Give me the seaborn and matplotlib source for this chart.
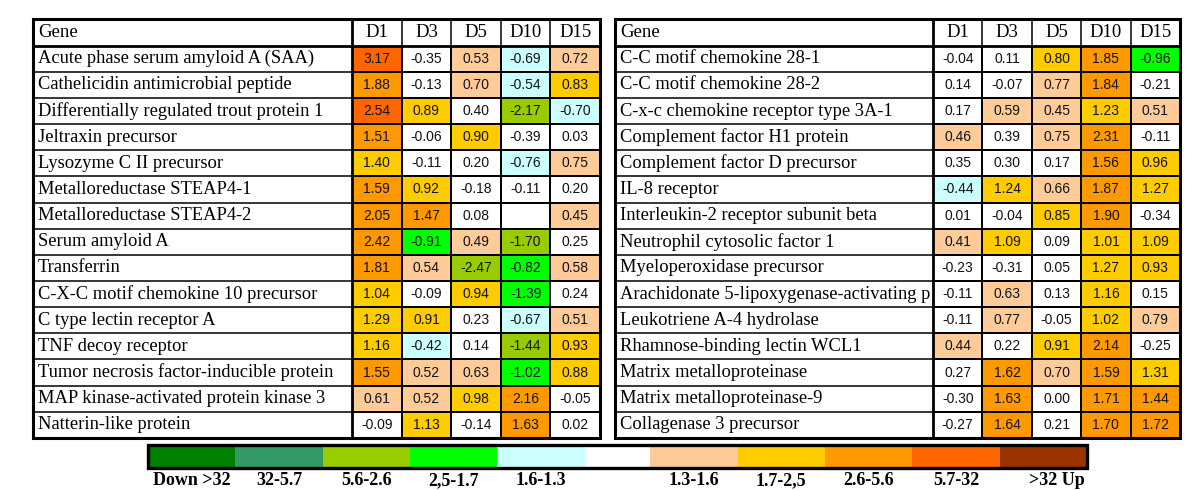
import numpy as np
import matplotlib
matplotlib.use("Agg")
import matplotlib.pyplot as plt
from matplotlib.colors import ListedColormap, BoundaryNorm
from matplotlib.patches import Rectangle
import seaborn as sns

# ---- data (log2 fold change) ----
DAYS = ["D1", "D3", "D5", "D10", "D15"]

left_genes = [
    "Acute phase serum amyloid A (SAA)",
    "Cathelicidin antimicrobial peptide",
    "Differentially regulated trout protein 1",
    "Jeltraxin precursor",
    "Lysozyme C II precursor",
    "Metalloreductase STEAP4-1",
    "Metalloreductase STEAP4-2",
    "Serum amyloid A",
    "Transferrin",
    "C-X-C motif chemokine 10 precursor",
    "C type lectin receptor A",
    "TNF decoy receptor",
    "Tumor necrosis factor-inducible protein",
    "MAP kinase-activated protein kinase 3",
    "Natterin-like protein",
]
left_vals = [
    [3.17, -0.35, 0.53, -0.69, 0.72],
    [1.88, -0.13, 0.70, -0.54, 0.83],
    [2.54, 0.89, 0.40, -2.17, -0.70],
    [1.51, -0.06, 0.90, -0.39, 0.03],
    [1.40, -0.11, 0.20, -0.76, 0.75],
    [1.59, 0.92, -0.18, -0.11, 0.20],
    [2.05, 1.47, 0.08, np.nan, 0.45],
    [2.42, -0.91, 0.49, -1.70, 0.25],
    [1.81, 0.54, -2.47, -0.82, 0.58],
    [1.04, -0.09, 0.94, -1.39, 0.24],
    [1.29, 0.91, 0.23, -0.67, 0.51],
    [1.16, -0.42, 0.14, -1.44, 0.93],
    [1.55, 0.52, 0.63, -1.02, 0.88],
    [0.61, 0.52, 0.98, 2.16, -0.05],
    [-0.09, 1.13, -0.14, 1.63, 0.02],
]

right_genes = [
    "C-C motif chemokine 28-1",
    "C-C motif chemokine 28-2",
    "C-x-c chemokine receptor type 3A-1",
    "Complement factor H1 protein",
    "Complement factor D precursor",
    "IL-8 receptor",
    "Interleukin-2 receptor subunit beta",
    "Neutrophil cytosolic factor 1",
    "Myeloperoxidase precursor",
    "Arachidonate 5-lipoxygenase-activating p",
    "Leukotriene A-4 hydrolase",
    "Rhamnose-binding lectin WCL1",
    "Matrix metalloproteinase",
    "Matrix metalloproteinase-9",
    "Collagenase 3 precursor",
]
right_vals = [
    [-0.04, 0.11, 0.80, 1.85, -0.96],
    [0.14, -0.07, 0.77, 1.84, -0.21],
    [0.17, 0.59, 0.45, 1.23, 0.51],
    [0.46, 0.39, 0.75, 2.31, -0.11],
    [0.35, 0.30, 0.17, 1.56, 0.96],
    [-0.44, 1.24, 0.66, 1.87, 1.27],
    [0.01, -0.04, 0.85, 1.90, -0.34],
    [0.41, 1.09, 0.09, 1.01, 1.09],
    [-0.23, -0.31, 0.05, 1.27, 0.93],
    [-0.11, 0.63, 0.13, 1.16, 0.15],
    [-0.11, 0.77, -0.05, 1.02, 0.79],
    [0.44, 0.22, 0.91, 2.14, -0.25],
    [0.27, 1.62, 0.70, 1.59, 1.31],
    [-0.30, 1.63, 0.00, 1.71, 1.44],
    [-0.27, 1.64, 0.21, 1.70, 1.72],
]

# colour classes (fold change bins on log2 scale)
bin_edges = [-10, -5, -2.5, -1.42, -0.795, -0.405, 0.405, 0.795, 1.42, 2.5, 5, 10]
bin_colors = ["#008000", "#339966", "#99CC00", "#00FF00", "#CCFFFF", "#FFFFFF",
              "#FFCC99", "#FFCC00", "#FF9900", "#FF6600", "#993300"]
legend_labels = ["Down >32", "32-5.7", "5.6-2.6", "2,5-1.7", "1.6-1.3", "",
                 "1.3-1.6", "1.7-2,5", "2.6-5.6", "5.7-32", ">32 Up"]
legend_span = [4, 4, 4, 4, 4, 3, 4, 4, 4, 4, 4]   # white class is narrower

cmap = ListedColormap(bin_colors)
norm = BoundaryNorm(bin_edges, cmap.N)

# ---- layout in pixels ----
W, H = 1200, 490
TOP, ROW_H = 19.5, 26.15
LW = 1.1
SERIF = "Liberation Serif"
SANS = "Liberation Sans"

fig = plt.figure(figsize=(W / 100, H / 100), dpi=100)


def px_axes(x0, y0, x1, y1):
    return fig.add_axes([x0 / W, 1 - y1 / H, (x1 - x0) / W, (y1 - y0) / H])


tables = [
    (left_genes, left_vals, 33, 352, 600),
    (right_genes, right_vals, 615, 933, 1180),
]
n_rows = len(left_genes)
bottom = TOP + (n_rows + 1) * ROW_H

for genes, vals, x0, xg, x1 in tables:
    ax = px_axes(xg, TOP + ROW_H, x1, bottom)
    sns.heatmap(np.array(vals), ax=ax, cmap=cmap, norm=norm, cbar=False,
                annot=True, fmt=".2f", linewidths=LW, linecolor="black",
                xticklabels=False, yticklabels=False,
                annot_kws={"color": "#111111", "fontsize": 10, "family": SANS})
    ax.set_facecolor("white")

# legend strip
leg_codes = np.repeat(np.arange(len(bin_colors)), legend_span)[None, :]
lax = px_axes(148, 445, 1087, 468)
sns.heatmap(leg_codes, ax=lax, cmap=ListedColormap(bin_colors), cbar=False,
            xticklabels=False, yticklabels=False, vmin=-0.5, vmax=len(bin_colors) - 0.5)
edges = np.concatenate([[0], np.cumsum(legend_span)])
for i, lab in enumerate(legend_labels):
    cx = (edges[i] + edges[i + 1]) / 2
    if i == len(legend_labels) - 1:
        cx += 0.6
    lax.text(cx, 1.76, lab, ha="center", va="baseline", fontsize=13,
             fontweight="bold", family=SERIF, clip_on=False)

# frame overlay: table grid, gene names and headers
fr = fig.add_axes([0, 0, 1, 1], zorder=10)
fr.set_xlim(0, W)
fr.set_ylim(H, 0)
fr.axis("off")
fr.patch.set_visible(False)

for genes, vals, x0, xg, x1 in tables:
    colw = (x1 - xg) / len(DAYS)
    for i in range(1, n_rows + 1):
        y = TOP + i * ROW_H
        if i == 1:
            fr.plot([x0, x1], [y, y], color="black", lw=2.0)
        else:
            fr.plot([x0, xg], [y, y], color="black", lw=LW)
    for j in range(1, len(DAYS)):
        x = xg + j * colw
        fr.plot([x, x], [TOP, TOP + ROW_H], color="black", lw=LW)
    fr.plot([xg, xg], [TOP, bottom], color="black", lw=2.0)
    fr.add_patch(Rectangle((x0, TOP), x1 - x0, bottom - TOP, fill=False,
                           ec="black", lw=2.2))
    fr.text(x0 + 5, TOP + ROW_H / 2, "Gene", ha="left", va="center",
            fontsize=13.5, family=SERIF)
    for j, d in enumerate(DAYS):
        fr.text(xg + (j + 0.5) * colw, TOP + ROW_H / 2, d, ha="center",
                va="center", fontsize=13.5, family=SERIF)
    # long names are cut at the gene column border, as in the original table
    clip = Rectangle((x0, TOP), xg - x0 - 1, bottom - TOP, transform=fr.transData)
    for i, g in enumerate(genes):
        t = fr.text(x0 + 5, TOP + (i + 1.5) * ROW_H, g, ha="left", va="center",
                    fontsize=13.3, family=SERIF, clip_on=True)
        t.set_clip_path(clip)

fr.add_patch(Rectangle((148, 445), 1087 - 148, 23, fill=False, ec="black", lw=2.4))

fig.savefig("out.png", dpi=100, facecolor="white")
